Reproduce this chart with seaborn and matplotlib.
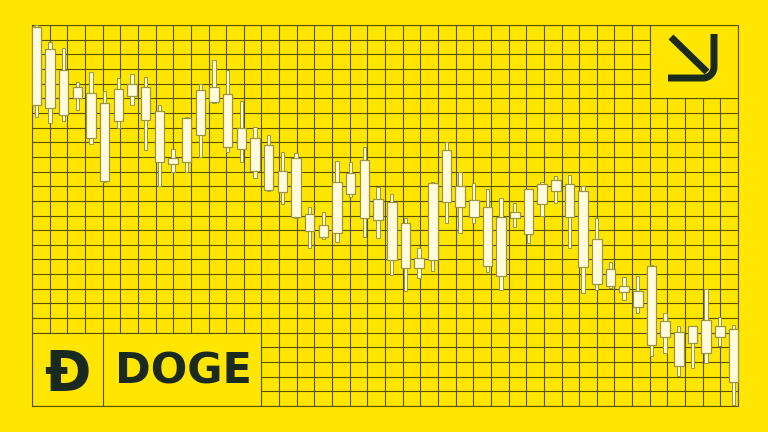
import numpy as np
import pandas as pd
import matplotlib.pyplot as plt
import seaborn as sns
from matplotlib.patches import Rectangle

# Candle data (arbitrary price units, one candle per day)
day = list(range(52))
high = [407, 390.3, 384.3, 349.7, 360.3, 341, 354.3, 357.7, 354.7, 327,
        283, 315, 347.7, 372, 362, 331, 304.7, 296.7, 279.7, 279.3,
        224.7, 220.3, 271.3, 270.3, 285.3, 244.7, 237.7, 213.7, 183.7, 250.3,
        289.7, 260.3, 248.7, 242.7, 233.7, 228.7, 243, 250.3, 256, 257,
        246, 213.7, 169.7, 155.3, 156, 167, 118.7, 106, 106, 142.7,
        115.3, 107]
body_top = [404.7, 382.7, 362, 345.3, 338.7, 329.5, 343, 347.7, 345.3, 321.3,
            274.3, 314.3, 342, 345.3, 337.7, 304.3, 293.7, 287.5, 261, 273.7,
            217.7, 207, 249.7, 259.3, 272, 233, 230.3, 208.7, 173.7, 249.3,
            282, 246.3, 232, 225.3, 214.7, 219.7, 242.7, 248, 252, 247.7,
            241.3, 192.7, 163, 146, 141.3, 166, 111.3, 100.3, 106, 112,
            106, 102.7]
body_bottom = [327, 323.7, 317, 334.3, 293.7, 251.5, 311, 336.3, 312.5, 270.3,
               268, 270, 297, 329.7, 285.3, 283, 261, 242.3, 239.7, 214.7,
               201, 195.3, 198.7, 237.7, 213.7, 212, 172, 163.7, 163.7, 172,
               230.3, 225.3, 214.7, 166.3, 156, 213.7, 198, 227.7, 241.3, 215.3,
               164.7, 147.7, 146.3, 140.3, 125.3, 87, 95.3, 66.3, 89.3, 79.3,
               95.3, 50.3]
low = [315.3, 309.3, 311.3, 322, 288, 250.3, 304.3, 327, 282, 246,
       260.3, 260.3, 274.7, 329, 280.3, 270.3, 253.7, 241, 227.7, 214,
       184.3, 192.7, 190.3, 235.3, 194.7, 193.7, 157, 141.3, 153.7, 161,
       208.7, 198.7, 208.7, 160.3, 142, 205.3, 188.7, 216.3, 228.7, 183.7,
       138.7, 142, 144.3, 132, 119.3, 76, 78.7, 56, 63.7, 69.3,
       86, 27]

df = pd.DataFrame({"day": day, "high": high, "top": body_top,
                   "bottom": body_bottom, "low": low})
df["wick"] = df["high"] - df["low"]
df["body"] = df["top"] - df["bottom"]

YELLOW = "#FFE600"
GRID = "#575200"
CREAM = "#FFFBDC"
EDGE = "#9A9640"
INK = "#1B2A1F"

sns.set_theme(style="white")
fig = plt.figure(figsize=(7.68, 4.32), dpi=100)
fig.patch.set_facecolor(YELLOW)

# Background grid (40 x 26 cells)
gax = fig.add_axes([32 / 768, 26 / 432, 706 / 768, 381 / 432])
gax.set_facecolor(YELLOW)
gax.set_xlim(0, 40)
gax.set_ylim(26, 0)
gax.set_xticks(range(41))
gax.set_yticks(range(27))
gax.tick_params(length=0, labelbottom=False, labelleft=False)
gax.grid(True, color=GRID, linewidth=0.8)
gax.set_axisbelow(True)
for s in gax.spines.values():
    s.set_color(GRID)
    s.set_linewidth(0.8)
gax.add_patch(Rectangle((0, 21), 13, 5, facecolor=YELLOW, edgecolor=GRID, lw=0.8, zorder=2))
gax.plot([4, 4], [21, 26], color=GRID, lw=0.8, zorder=3)
gax.add_patch(Rectangle((35, 0), 5, 5, facecolor=YELLOW, edgecolor=GRID, lw=0.8, zorder=2))

# Candles
cax = fig.add_axes([0, 0, 1, 1])
cax.patch.set_alpha(0)
sns.barplot(data=df, x="day", y="wick", bottom=df["low"], width=0.24,
            color=CREAM, saturation=1, edgecolor=EDGE, linewidth=0.7,
            errorbar=None, ax=cax)
sns.barplot(data=df, x="day", y="body", bottom=df["bottom"], width=0.7,
            color=CREAM, saturation=1, edgecolor=EDGE, linewidth=0.9,
            errorbar=None, ax=cax)
cax.set_xlim(-36.3 / 13.67, (768 - 36.3) / 13.67)
cax.set_ylim(0, 432)
cax.axis("off")

# Labels and arrow icon
oax = fig.add_axes([0, 0, 1, 1])
oax.patch.set_alpha(0)
oax.set_xlim(0, 768)
oax.set_ylim(432, 0)
oax.axis("off")
oax.text(67, 390, "Ð", ha="center", va="baseline", fontsize=40,
         fontweight="bold", family="DejaVu Sans", color=INK)
oax.text(183, 384, "DOGE", ha="center", va="baseline", fontsize=31,
         fontweight="bold", family="DejaVu Sans", color=INK)
oax.plot([671, 707], [37, 72], color=INK, lw=5, solid_capstyle="butt")
r = 11
t = np.linspace(np.pi / 2, 0, 12)
arc_x = (714 - r) + r * np.cos(t)
arc_y = (78 - r) + r * np.sin(t)
oax.plot(np.r_[668, arc_x, 714], np.r_[78, arc_y, 34], color=INK, lw=5,
         solid_capstyle="butt", solid_joinstyle="round")

fig.savefig("out.png", dpi=100, facecolor=YELLOW)
